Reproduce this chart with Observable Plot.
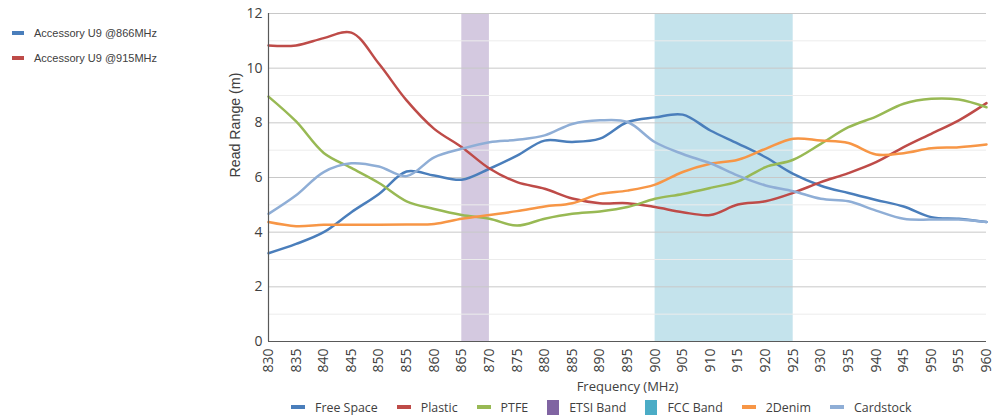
<!DOCTYPE html>
<html><head><meta charset="utf-8">
<script src="https://cdn.jsdelivr.net/npm/d3@7"></script>
<script src="https://cdn.jsdelivr.net/npm/@observablehq/plot@0.6"></script>
<style>
body{margin:0;background:#fff;width:1005px;height:418px;overflow:hidden;position:relative;font-family:"Liberation Sans",Arial,sans-serif;}
#side{position:absolute;left:12px;top:20px;font-size:11px;color:#404040;}
#side div{display:flex;align-items:center;height:25px;}
#side span.sw{display:inline-block;width:12px;height:4px;margin-right:10px;}
#bottom{position:absolute;left:291px;top:396px;height:22px;display:flex;justify-content:flex-start;align-items:center;font-family:"Open Sans",sans-serif;font-size:12.4px;color:#404040;}
#bottom .it{display:flex;align-items:center;margin-right:19px;}
#bottom .ln{display:inline-block;width:14px;height:4px;margin-right:10px;}
#bottom .bx{display:inline-block;width:12px;height:15px;margin-right:10px;}
#chart{position:absolute;left:0;top:0;}
</style></head>
<body>
<div id="side"></div>
<div id="chart"></div>
<div id="bottom"></div>
<script>
const freqs = [830,835,840,845,850,855,860,865,870,875,880,885,890,895,900,905,910,915,920,925,930,935,940,945,950,955,960];
const freeSpace = [3.23,3.57,4.0,4.73,5.4,6.22,6.07,5.92,6.32,6.8,7.35,7.3,7.42,8.03,8.2,8.3,7.72,7.24,6.74,6.13,5.7,5.43,5.18,4.94,4.55,4.49,4.37];
const plastic = [10.83,10.83,11.1,11.3,10.16,8.82,7.78,7.11,6.33,5.83,5.59,5.23,5.06,5.06,4.92,4.73,4.63,5.01,5.13,5.44,5.83,6.16,6.56,7.11,7.6,8.09,8.72];
const ptfe = [8.96,8.05,6.9,6.35,5.8,5.13,4.85,4.63,4.49,4.24,4.49,4.67,4.76,4.92,5.22,5.4,5.62,5.86,6.38,6.65,7.23,7.84,8.23,8.7,8.88,8.85,8.57];
const denim = [4.37,4.22,4.27,4.27,4.27,4.28,4.3,4.49,4.63,4.77,4.94,5.06,5.4,5.52,5.74,6.2,6.5,6.65,7.05,7.42,7.35,7.26,6.84,6.89,7.07,7.11,7.21];
const cardstock = [4.67,5.35,6.2,6.52,6.4,6.05,6.74,7.05,7.29,7.38,7.54,7.96,8.09,8.03,7.29,6.86,6.52,6.07,5.71,5.5,5.22,5.13,4.79,4.49,4.46,4.46,4.37];
const bandNames = ["ETSI Band","FCC Band"];
const bandStart = [865,900];
const bandEnd = [870,925];
const yTicks = [0,2,4,6,8,10,12];
const minorTicks = [1,3,5,7,9,11];
const sideLegend = ["Accessory U9 @866MHz","Accessory U9 @915MHz"];
const xTitle = "Frequency (MHz)";
const yTitle = "Read Range (m)";

const colors = {"Free Space":"#4a7ebb","Plastic":"#be4b48","PTFE":"#98b954","ETSI Band":"#8064a2","FCC Band":"#4bacc6","2Denim":"#f79646","Cardstock":"#8faed6"};
const bandFill = {"ETSI Band":"#d4c9e0","FCC Band":"#c4e3ec"};

const seriesList = [["Free Space",freeSpace],["Plastic",plastic],["PTFE",ptfe],["2Denim",denim],["Cardstock",cardstock]];
const rows = seriesList.flatMap(([name,vals]) => vals.map((v,i)=>({series:name,freq:freqs[i],value:v})));
const bands = bandNames.map((n,i)=>({name:n,x1:bandStart[i],x2:bandEnd[i]}));

const plot = Plot.plot({
  width:1005, height:395,
  marginLeft:268, marginRight:19, marginTop:13, marginBottom:54,
  style:{fontFamily:"'Open Sans',sans-serif",fontSize:"14px",color:"#404040",background:"transparent"},
  x:{domain:[830,960]},
  y:{domain:[0,12]},
  marks:[
    Plot.rect(bands,{x1:"x1",x2:"x2",y1:0,y2:12,fill:d=>bandFill[d.name]}),
    Plot.ruleY(minorTicks,{stroke:"#ececec",strokeWidth:1}),
    Plot.ruleY(yTicks.filter(d=>d>0),{stroke:"#c8c8c8",strokeWidth:1}),
    Plot.line(rows,{x:"freq",y:"value",z:"series",stroke:d=>colors[d.series],strokeWidth:2.5,curve:"catmull-rom"}),
    Plot.ruleX([830],{y1:0,y2:12,stroke:"#595959",strokeWidth:1.2}),
    Plot.ruleY([0],{stroke:"#595959",strokeWidth:1.2}),
    Plot.axisY({ticks:yTicks,tickSize:0,tickPadding:6,label:null}),
    Plot.axisX({ticks:freqs,tickSize:0,tickPadding:7,tickRotate:-90,tickFormat:d=>String(d),label:null}),
    Plot.text([yTitle],{frameAnchor:"left",dx:-33,rotate:-90,fontSize:14.2,fontFamily:"'Liberation Sans',Arial,sans-serif",fill:"#404040"}),
    Plot.text([xTitle],{frameAnchor:"bottom",dy:49,fontSize:13,fill:"#404040"})
  ]
});
document.getElementById("chart").appendChild(plot);

const side = document.getElementById("side");
sideLegend.forEach((t,i)=>{
  const d=document.createElement("div");
  d.innerHTML=`<span class="sw" style="background:${i===0?colors["Free Space"]:colors["Plastic"]}"></span>${t}`;
  side.appendChild(d);
});
const order = ["Free Space","Plastic","PTFE","ETSI Band","FCC Band","2Denim","Cardstock"];
const bottom = document.getElementById("bottom");
order.forEach(n=>{
  const d=document.createElement("div"); d.className="it";
  const isBand = bandNames.includes(n);
  d.innerHTML=`<span class="${isBand?"bx":"ln"}" style="background:${colors[n]}"></span>${n}`;
  bottom.appendChild(d);
});
</script>
</body></html>
